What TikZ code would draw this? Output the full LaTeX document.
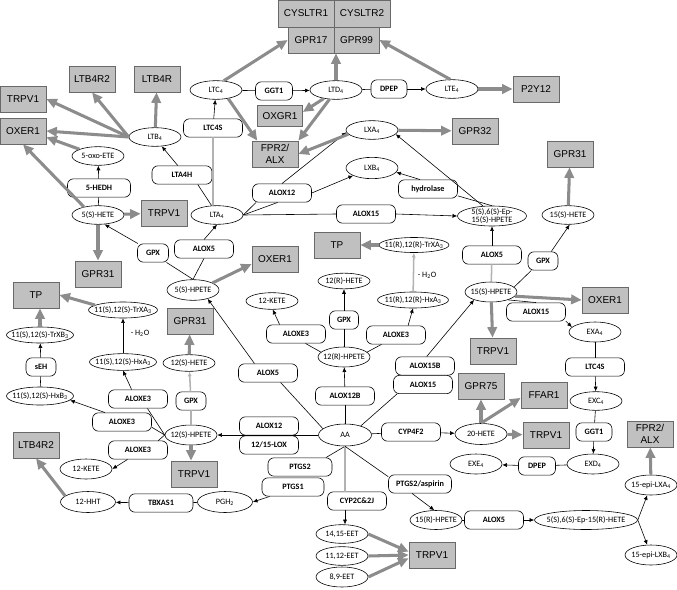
\documentclass[tikz,border=0pt]{standalone}
\usepackage{fontspec}
\setmainfont{Carlito}
\newfontfamily\recfont{Liberation Sans}
\usetikzlibrary{shapes.geometric,arrows.meta}

\definecolor{recfill}{RGB}{192,192,192}
\definecolor{recline}{RGB}{105,105,105}
\definecolor{garrowc}{RGB}{140,140,140}

\tikzset{
  enz/.style={draw, rounded corners=0.18cm, fill=white, font=\bfseries\fontsize{7}{8}\selectfont, minimum width=1.77cm, minimum height=0.55cm, inner sep=1pt, line width=0.5pt},
  met/.style={draw, ellipse, fill=white, font=\fontsize{7}{7.5}\selectfont, minimum width=1.56cm, minimum height=0.56cm, inner xsep=-10pt, inner ysep=-5pt, line width=0.5pt},
  rec/.style={draw=recline, fill=recfill, font=\recfont\fontsize{8.5}{10}\selectfont, minimum width=1.38cm, minimum height=0.78cm, inner sep=1pt, line width=0.6pt, align=center},
  garrow/.style={draw=garrowc, line width=2.6pt, -{Triangle[length=9pt,width=8pt]}},
  barrow/.style={-{Latex[length=4pt,width=3.5pt]}, line width=0.5pt},
  bline/.style={line width=0.5pt},
  gline/.style={draw=gray!60, line width=1.3pt},
  glinearrow/.style={draw=gray!60, line width=1.3pt, -{Latex[length=4pt,width=3.5pt]}},
}

\begin{document}
\begin{tikzpicture}[x=0.03cm,y=-0.03cm]
\useasboundingbox (0,0) rectangle (677,589);

% receptors
\node[rec, minimum width=1.68cm, minimum height=0.81cm] (cysltr1) at (306,13.5) {CYSLTR1};
\node[rec, minimum width=1.68cm, minimum height=0.81cm] (cysltr2) at (362,13.5) {CYSLTR2};
\node[rec, minimum width=1.38cm] (gpr17) at (311,40) {GPR17};
\node[rec, minimum width=1.35cm] (gpr99) at (356.5,40) {GPR99};
\node[rec] (ltbrtwoa) at (92,79) {LTB4R2};
\node[rec] (ltbr) at (157,79) {LTB4R};
\node[rec] (trpva) at (23,99) {TRPV1};
\node[rec] (oxera) at (23,131) {OXER1};
\node[rec] (ptwelve) at (536,89) {P2Y12};
\node[rec, minimum width=1.35cm, minimum height=0.65cm] (oxgr) at (280,116) {OXGR1};
\node[rec] (fpra) at (275,154) {FPR2/\\ALX};
\node[rec] (gprtt) at (475,131) {GPR32};
\node[rec] (gpr31c) at (570,154) {GPR31};
\node[rec] (trpvb) at (164,213) {TRPV1};
\node[rec] (oxerb) at (275,259) {OXER1};
\node[rec] (gpr31a) at (98,274) {GPR31};
\node[rec] (tpa) at (36,295) {TP};
\node[rec] (gpr31b) at (190,321) {GPR31};
\node[rec] (tpb) at (337,245) {TP};
\node[rec] (oxerc) at (605,300) {OXER1};
\node[rec] (trpvc) at (493,351) {TRPV1};
\node[rec] (gprsf) at (481,386) {GPR75};
\node[rec] (ffar) at (544,395) {FFAR1};
\node[rec] (trpvd) at (546,435) {TRPV1};
\node[rec] (fprb) at (650,434) {FPR2/\\ALX};
\node[rec] (ltbrtwob) at (36,445) {LTB4R2};
\node[rec] (trpve) at (194,474) {TRPV1};
\node[rec] (trpvf) at (432,555) {TRPV1};

% metabolites
\node[met] (ltc) at (216,90) {LTC\textsubscript{4}};
\node[met] (ltd) at (336,90) {LTD\textsubscript{4}};
\node[met] (lte) at (452,89) {LTE\textsubscript{4}};
\node[met] (ltb) at (155,137) {LTB\textsubscript{4}};
\node[met] (oxoete) at (98,156) {5-oxo-ETE};
\node[met] (lxa) at (372,130) {LXA\textsubscript{4}};
\node[met, minimum height=0.64cm] (lxb) at (372,168) {LXB\textsubscript{4}};
\node[met] (shete) at (98,215) {5(S)-HETE};
\node[met] (lta) at (217,215) {LTA\textsubscript{4}};
\node[met, minimum width=2.07cm, minimum height=0.6cm, align=center, font=\fontsize{7}{7}\selectfont] (epx) at (492,216) {5(S),6(S)-Ep-\\15(S)-HPETE};
\node[met] (hetefs) at (568,215) {15(S)-HETE};
\node[met, minimum height=0.62cm] (shpete) at (193,290) {5(S)-HPETE};
\node[met, minimum width=2.07cm, minimum height=0.48cm] (trxas) at (123,310) {11(S),12(S)-TrXA\textsubscript{3}};
\node[met, minimum height=0.5cm] (ketea) at (272,301) {12-KETE};
\node[met, minimum width=2.01cm, minimum height=0.48cm] (trxb) at (40,335) {11(S),12(S)-TrXB\textsubscript{3}};
\node[met, minimum width=2.01cm, minimum height=0.5cm] (hxas) at (123,362) {11(S),12(S)-HxA\textsubscript{3}};
\node[met, minimum height=0.5cm] (hetets) at (189,363) {12(S)-HETE};
\node[met, minimum height=0.6cm] (rhpete) at (344,357) {12(R)-HPETE};
\node[met, minimum height=0.47cm] (rhete) at (344,281) {12(R)-HETE};
\node[met, minimum width=2.13cm, minimum height=0.48cm] (hxar) at (413,300) {11(R),12(R)-HxA\textsubscript{3}};
\node[met, minimum width=2.1cm, minimum height=0.45cm] (trxar) at (414,245) {11(R),12(R)-TrXA\textsubscript{3}};
\node[met, minimum height=0.6cm] (hpetefs) at (491,292) {15(S)-HPETE};
\node[met, minimum height=0.6cm] (exa) at (595,332) {EXA\textsubscript{4}};
\node[met] (exc) at (596,401) {EXC\textsubscript{4}};
\node[met, minimum width=1.59cm, minimum height=0.66cm] (aa) at (345,435) {AA};
\node[met, minimum height=0.6cm] (hpetets) at (191,435) {12(S)-HPETE};
\node[met, minimum height=0.63cm] (hetetw) at (481,434) {20-HETE};
\node[met, minimum height=0.6cm] (exd) at (593,464) {EXD\textsubscript{4}};
\node[met, minimum height=0.6cm] (exe) at (476,464) {EXE\textsubscript{4}};
\node[met, minimum width=2.01cm, minimum height=0.54cm] (hxb) at (40,396) {11(S),12(S)-HxB\textsubscript{3}};
\node[met, minimum height=0.6cm] (keteb) at (86,469) {12-KETE};
\node[met, minimum width=1.65cm, minimum height=0.63cm] (hht) at (88,502) {12-HHT};
\node[met, minimum width=1.65cm, minimum height=0.63cm] (pgh) at (225,502) {PGH\textsubscript{2}};
\node[met, minimum height=0.6cm] (epilxa) at (651,485) {15-epi-LXA\textsubscript{4}};
\node[met, minimum height=0.57cm] (rhpetefs) at (436,520) {15(R)-HPETE};
\node[met, minimum width=3.09cm, minimum height=0.57cm] (epr) at (586,520) {5(S),6(S)-Ep-15(R)-HETE};
\node[met, minimum height=0.6cm] (epilxb) at (651,555) {15-epi-LXB\textsubscript{4}};
\node[met] (eeta) at (342,534) {14,15-EET};
\node[met] (eetb) at (342,556) {11,12-EET};
\node[met, minimum height=0.6cm] (eetc) at (342,577) {8,9-EET};

% enzymes
\node[enz, minimum width=1.11cm] (ggta) at (274,91) {GGT1};
\node[enz, minimum width=1.08cm] (dpepa) at (389,89) {DPEP};
\node[enz] (ltcsa) at (213,128) {LTC4S};
\node[enz, minimum width=1.8cm] (ltah) at (182,175) {LTA4H};
\node[enz, minimum width=1.89cm] (hedh) at (99,188) {5-HEDH};
\node[enz] (aloxtwa) at (282,193) {ALOX12};
\node[enz] (hydro) at (428,189) {hydrolase};
\node[enz] (aloxfta) at (366,214) {ALOX15};
\node[enz, minimum width=0.93cm] (gpxa) at (153,253) {GPX};
\node[enz] (aloxfa) at (204,249) {ALOX5};
\node[enz] (aloxfc) at (492,255) {ALOX5};
\node[enz, minimum width=0.9cm] (gpxc) at (543,261) {GPX};
\node[enz] (aloxftc) at (536,312) {ALOX15};
\node[enz] (ltcsb) at (595,367) {LTC4S};
\node[enz] (aloxea) at (296,334) {ALOXE3};
\node[enz, minimum width=0.87cm] (gpxb) at (344,320) {GPX};
\node[enz] (aloxeb) at (396,335) {ALOXE3};
\node[enz, minimum width=0.9cm] (seh) at (41,367) {sEH};
\node[enz] (aloxfb) at (268,373) {ALOX5};
\node[enz] (aloxftb) at (425,366) {ALOX15B};
\node[enz] (aloxftd) at (423,384.5) {ALOX15};
\node[enz] (aloxtwb) at (345,396) {ALOX12B};
\node[enz] (aloxec) at (138,399) {ALOXE3};
\node[enz, minimum width=0.9cm] (gpxd) at (191,401) {GPX};
\node[enz] (aloxed) at (122,422) {ALOXE3};
\node[enz] (aloxee) at (138,450) {ALOXE3};
\node[enz] (aloxtwc) at (269,426) {ALOX12};
\node[enz] (lox) at (269,445) {12/15-LOX};
\node[enz] (cypff) at (411,432) {CYP4F2};
\node[enz, minimum width=1.08cm] (ggtb) at (594,432) {GGT1};
\node[enz, minimum width=1.11cm] (dpepb) at (537,466) {DPEP};
\node[enz, minimum width=1.92cm] (ptgstw) at (300,467) {PTGS2};
\node[enz, minimum width=1.86cm] (ptgson) at (293,487) {PTGS1};
\node[enz, minimum width=1.92cm] (tbxas) at (161,503) {TBXAS1};
\node[enz, minimum width=1.89cm] (aspirin) at (420,484) {PTGS2/aspirin};
\node[enz] (cyptc) at (357,501) {CYP2C\&2J};
\node[enz] (aloxfd) at (494,520) {ALOX5};

\node[font=\fontsize{7}{8}\selectfont] (h2oa) at (140,333) {- H\textsubscript{2}O};
\node[font=\fontsize{7}{8}\selectfont] (h2ob) at (427,275) {- H\textsubscript{2}O};

% leukotrienes
\draw[bline] (ltc) -- (ggta);
\draw[barrow] (ggta) -- (ltd);
\draw[bline] (ltd) -- (dpepa);
\draw[barrow] (dpepa) -- (lte);
\draw[gline] (lta.north -| ltcsa) -- (ltcsa.south);
\draw[barrow] (ltcsa) -- (ltc);
\draw[bline] (lta.120) -- (ltah.-31);
\draw[barrow] (ltah.114) -- (ltb.-54);
\draw[bline] (shete) -- (hedh);
\draw[barrow] (hedh) -- (oxoete);
\draw[bline] (shpete.north) -- (gpxa.-35);
\draw[barrow] (gpxa.148) -- (shete.-55);
\draw[bline] (shpete.north) -- (aloxfa.south);
\draw[barrow] (aloxfa.north) -- (lta.south);

% lipoxins
\draw[bline] (lta.east) -- (aloxtwa.200);
\draw[bline] (lta.east) -- (aloxtwa.-115);
\draw[barrow] (aloxtwa.north) -- (lxa.185);
\draw[barrow] (aloxtwa.east) -- (lxb.202);
\draw[bline] (lta.east) -- (aloxfta.west);
\draw[barrow] (aloxfta.east) -- (epx.west);
\draw[barrow] (epx.132) -- (lxa.-10);
\draw[bline] (epx.north) -- (hydro.-13);
\draw[barrow] (hydro.130) -- (lxb.-10);
\draw[gline] (hpetefs) -- (aloxfc);
\draw[barrow] (aloxfc) -- (epx);
\draw[bline] (hpetefs.12) -- (gpxc.219);
\draw[barrow] (gpxc.49) -- (hetefs.-80);
\draw[bline] (hpetefs.-25) -- (aloxftc.north);
\draw[barrow] (aloxftc.-17) -- (exa.168);
\draw[bline] (exa) -- (ltcsb);
\draw[barrow] (ltcsb) -- (exc);
\draw[bline] (exc) -- (ggtb);
\draw[barrow] (ggtb) -- (exd);
\draw[bline] (exd) -- (dpepb);
\draw[barrow] (dpepb) -- (exe);

% AA
\draw[bline] (aa.30) -- (aloxftd.200);
\draw[barrow] (aloxftb.80) -- (hpetefs.205);
\draw[bline] (aa) -- (aloxtwb);
\draw[barrow] (aloxtwb) -- (rhpete);
\draw[bline] (rhpete) -- (gpxb);
\draw[barrow] (gpxb) -- (rhete);
\draw[bline] (rhpete.168) -- (aloxea.-45);
\draw[barrow] (aloxea.150) -- (ketea.-85);
\draw[bline] (rhpete.12) -- (aloxeb.213);
\draw[barrow] (aloxeb.38) -- (hxar.south);
\draw[glinearrow] (hxar) -- (trxar);
\draw[bline] (aa.164) -- (aloxfb.-37);
\draw[barrow] (aloxfb.145) -- (shpete.-31);
\draw[barrow] (aa.west) -- (hpetets.east);
\draw[gline] (hpetets) -- (gpxd);
\draw[glinearrow] (gpxd) -- (hetets);
\draw[bline] (hpetets.west) -- (aloxec.-45);
\draw[barrow] (aloxec.124) -- (hxas.south);
\draw[barrow] (hxas) -- (trxas);
\draw[bline] (hpetets.west) -- (aloxed.-10);
\draw[barrow] (aloxed.151) -- (hxb.-8);
\draw[bline] (hxb) -- (seh);
\draw[barrow] (seh) -- (trxb);
\draw[bline] (hpetets.west) -- (aloxee.25);
\draw[barrow] (aloxee.222) -- (keteb.east);
\draw[bline] (aa.south) -- (ptgstw.20);
\draw[barrow] (ptgson.202) -- (pgh.east);
\draw[bline] (pgh) -- (tbxas);
\draw[barrow] (tbxas) -- (hht);
\draw[gline] (aa.south) -- (aa.south |- cyptc.north);
\draw[barrow] (aa.south |- cyptc.south) -- (aa.south |- eeta.north);
\draw[bline] (aa) -- (cypff);
\draw[barrow] (cypff) -- (hetetw);
\draw[bline] (aa.south) -- (aspirin.167);
\draw[barrow] (aspirin.-130) -- (rhpetefs.100);
\draw[bline] (rhpetefs) -- (aloxfd);
\draw[barrow] (aloxfd) -- (epr);
\draw[barrow] (epr.east) -- (epilxa.-110);
\draw[barrow] (epr.east) -- (epilxb.110);

% receptor arrows
\draw[garrow] (ltc.50) -- (gpr17.west);
\draw[garrow] (ltd.north) -- (ltd.north |- gpr99.south);
\draw[garrow] (lte.100) -- (gpr99.east);
\draw[garrow] (lte) -- (ptwelve);
\draw[garrow] (ltc.-35) -- (fpra.143);
\draw[garrow] (ltd.215) -- (oxgr.10);
\draw[garrow] (ltd.235) -- (fpra.north east);
\draw[garrow] (lxa.190) -- (fpra.east);
\draw[garrow] (lxa) -- (gprtt);
\draw[garrow] (ltb) -- (ltbr);
\foreach \rc in {ltbrtwoa.south, trpva.east, oxera.east}
  \draw[garrow] (ltb.west) -- (\rc);
\draw[garrow] (oxoete.160) -- (oxera.-15);
\draw[garrow] (shete.150) -- (oxera.south);
\draw[garrow] (shete) -- (trpvb);
\draw[garrow] (shete) -- (gpr31a);
\draw[garrow] (shpete.20) -- (oxerb.192);
\draw[garrow] (trxas.170) -- (tpa.east);
\draw[garrow] (trxb.north) -- (trxb.north |- tpa.south);
\draw[garrow] (hetets) -- (gpr31b);
\draw[garrow] (hpetets.south) -- (hpetets.south |- trpve.north);
\draw[garrow] (hht.165) -- (ltbrtwob.south);
\draw[garrow] (trxar) -- (tpb);
\draw[garrow] (hetefs) -- (gpr31c);
\draw[garrow] (hpetefs.-10) -- (oxerc.west);
\draw[garrow] (hpetefs) -- (trpvc);
\draw[garrow] (hetetw.north) -- (hetetw.north |- gprsf.south);
\draw[garrow] (hetetw.north) -- (ffar.187);
\draw[garrow] (hetetw) -- (trpvd);
\draw[garrow] (epilxa) -- (fprb);
\foreach \ee/\ta in {eeta/172, eetb/180, eetc/188}
  \draw[garrow] (\ee.east) -- (trpvf.\ta);

\end{tikzpicture}
\end{document}
